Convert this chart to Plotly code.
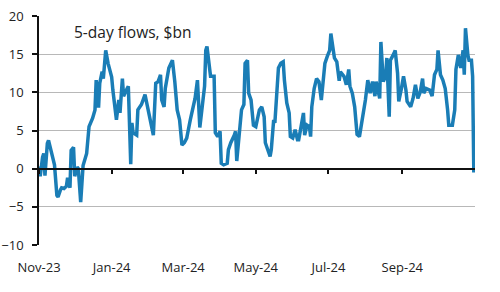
import plotly.graph_objects as go

dates = [
    "2023-11-01", "2023-11-02", "2023-11-04", "2023-11-05", "2023-11-06", "2023-11-08", "2023-11-09",
    "2023-11-11", "2023-11-13", "2023-11-14", "2023-11-16", "2023-11-17", "2023-11-19", "2023-11-20",
    "2023-11-22", "2023-11-24", "2023-11-25", "2023-11-27", "2023-11-28", "2023-11-30", "2023-12-01",
    "2023-12-03", "2023-12-04", "2023-12-06", "2023-12-07", "2023-12-08", "2023-12-11", "2023-12-12",
    "2023-12-13", "2023-12-16", "2023-12-18", "2023-12-19", "2023-12-21", "2023-12-22", "2023-12-24",
    "2023-12-25", "2023-12-27", "2023-12-29", "2024-01-01", "2024-01-02", "2024-01-05", "2024-01-07",
    "2024-01-08", "2024-01-10", "2024-01-11", "2024-01-14", "2024-01-15", "2024-01-17", "2024-01-18",
    "2024-01-19", "2024-01-22", "2024-01-23", "2024-01-26", "2024-01-29", "2024-01-31", "2024-02-02",
    "2024-02-05", "2024-02-07", "2024-02-09", "2024-02-11", "2024-02-12", "2024-02-14", "2024-02-15",
    "2024-02-18", "2024-02-21", "2024-02-23", "2024-02-25", "2024-02-27", "2024-02-29", "2024-03-02",
    "2024-03-04", "2024-03-07", "2024-03-09", "2024-03-11", "2024-03-13", "2024-03-15", "2024-03-17",
    "2024-03-19", "2024-03-20", "2024-03-21", "2024-03-24", "2024-03-27", "2024-03-28", "2024-03-30",
    "2024-04-01", "2024-04-02", "2024-04-04", "2024-04-07", "2024-04-08", "2024-04-10", "2024-04-13",
    "2024-04-14", "2024-04-15", "2024-04-17", "2024-04-19", "2024-04-21", "2024-04-22", "2024-04-24",
    "2024-04-25", "2024-04-27", "2024-04-29", "2024-05-01", "2024-05-04", "2024-05-06", "2024-05-08",
    "2024-05-09", "2024-05-11", "2024-05-13", "2024-05-14", "2024-05-16", "2024-05-17", "2024-05-19",
    "2024-05-20", "2024-05-22", "2024-05-24", "2024-05-25", "2024-05-27", "2024-05-29", "2024-05-30",
    "2024-06-01", "2024-06-03", "2024-06-05", "2024-06-06", "2024-06-08", "2024-06-10", "2024-06-11",
    "2024-06-13", "2024-06-15", "2024-06-16", "2024-06-17", "2024-06-19", "2024-06-21", "2024-06-23",
    "2024-06-25", "2024-06-27", "2024-06-28", "2024-06-30", "2024-07-02", "2024-07-03", "2024-07-05",
    "2024-07-06", "2024-07-08", "2024-07-10", "2024-07-11", "2024-07-14", "2024-07-16", "2024-07-18",
    "2024-07-19", "2024-07-21", "2024-07-23", "2024-07-25", "2024-07-27", "2024-07-29", "2024-08-01",
    "2024-08-03", "2024-08-05", "2024-08-07", "2024-08-09", "2024-08-10", "2024-08-13", "2024-08-14",
    "2024-08-16", "2024-08-18", "2024-08-19", "2024-08-21", "2024-08-22", "2024-08-25", "2024-08-26",
    "2024-08-28", "2024-08-29", "2024-08-31", "2024-09-02", "2024-09-04", "2024-09-05", "2024-09-08",
    "2024-09-10", "2024-09-12", "2024-09-14", "2024-09-16", "2024-09-18", "2024-09-19", "2024-09-21",
    "2024-09-24", "2024-09-26", "2024-09-28", "2024-09-30", "2024-10-01", "2024-10-03", "2024-10-05",
    "2024-10-07", "2024-10-09", "2024-10-10", "2024-10-13", "2024-10-15", "2024-10-16", "2024-10-18",
    "2024-10-20", "2024-10-22", "2024-10-23", "2024-10-24", "2024-10-26", "2024-10-27", "2024-10-29",
    "2024-10-30", "2024-10-31",
]

flows = [
    0.3, -1.0, 1.5, 2.0, -0.9, 3.3, 3.7,
    2.5, 1.5, 0.5, -3.5, -3.7, -2.8, -2.5,
    -2.6, -2.3, -1.2, -2.5, 2.4, 2.8, -1.0,
    0.2, 0.0, -4.4, -2.0, 0.4, 2.0, 4.0,
    5.5, 6.6, 7.7, 11.6, 8.0, 11.2, 12.7,
    11.8, 15.5, 13.8, 12.0, 10.3, 6.4, 9.0,
    7.3, 11.8, 9.5, 10.5, 10.8, 0.6, 6.0,
    4.7, 4.4, 7.7, 8.4, 9.7, 8.1, 6.4,
    4.4, 11.2, 11.4, 12.3, 9.0, 8.1, 10.5,
    13.2, 14.2, 11.4, 7.7, 6.4, 3.1, 3.4,
    4.0, 6.4, 8.1, 9.2, 11.6, 5.4, 8.1,
    10.8, 15.5, 16.0, 12.1, 12.1, 4.7, 4.2,
    4.9, 0.7, 0.5, 0.7, 2.5, 3.4, 4.4,
    4.9, 1.0, 4.7, 7.7, 8.4, 13.8, 14.2,
    9.9, 9.0, 5.7, 5.5, 7.7, 8.1, 6.8,
    3.4, 2.5, 1.6, 2.5, 6.4, 6.0, 9.9,
    13.2, 13.8, 14.0, 11.6, 8.6, 7.3, 4.2,
    4.0, 5.1, 3.8, 3.8, 5.5, 7.3, 4.4,
    5.7, 5.5, 4.2, 8.1, 10.5, 11.8, 11.4,
    9.0, 12.7, 13.8, 14.7, 15.5, 17.7, 15.3,
    14.5, 14.0, 11.5, 12.7, 12.1, 11.0, 13.0,
    10.8, 9.9, 8.1, 4.5, 4.2, 6.0, 9.0,
    11.6, 9.9, 11.4, 9.5, 11.4, 9.2, 16.6,
    11.4, 12.1, 14.5, 6.8, 14.2, 15.1, 15.5,
    12.5, 8.8, 10.3, 12.1, 10.3, 8.8, 8.1,
    9.2, 11.0, 9.2, 10.0, 11.8, 9.9, 10.5,
    10.3, 9.5, 12.3, 13.0, 15.5, 12.3, 11.6,
    10.5, 7.7, 5.7, 5.7, 7.7, 13.0, 14.9,
    13.2, 15.5, 12.3, 18.4, 14.9, 14.2, 14.2,
    12.1, -0.5,
]

tick_vals = ["2023-11-01", "2024-01-01", "2024-03-01", "2024-05-01", "2024-07-01", "2024-09-01"]
tick_text = ["Nov-23", "Jan-24", "Mar-24", "May-24", "Jul-24", "Sep-24"]
y_ticks = [-10, -5, 0, 5, 10, 15, 20]
title_text = "5-day flows, $bn"

x_range = ["2023-11-01", "2024-11-01"]
y_range = [-10, 20]

FONT = "Open Sans"
fig = go.Figure()
fig.add_trace(go.Scatter(
    x=dates, y=flows, mode="lines",
    line=dict(color="#1a7db6", width=3.5),
    showlegend=False, hoverinfo="skip",
))
# dummy trace for zero-line axis
fig.add_trace(go.Scatter(x=[], y=[], xaxis="x2", yaxis="y", showlegend=False))

fig.update_layout(
    width=500, height=292,
    margin=dict(l=39, r=25, t=16, b=47),
    paper_bgcolor="white", plot_bgcolor="white",
    font=dict(family=FONT, size=13, color="#222222"),
    xaxis=dict(
        type="date", range=x_range,
        tickvals=tick_vals, ticktext=tick_text,
        showgrid=False, zeroline=False, showline=False,
        ticks="outside", ticklen=10, tickcolor="rgba(0,0,0,0)",
        tickfont=dict(family=FONT, size=13, color="#222222"),
        automargin=False,
    ),
    xaxis2=dict(
        type="date", range=x_range, overlaying="x", anchor="free",
        position=(0 - y_range[0]) / (y_range[1] - y_range[0]),
        side="bottom",
        tickvals=tick_vals, showticklabels=False,
        ticks="outside", ticklen=5, tickwidth=1.5, tickcolor="#111111",
        showline=True, linecolor="#111111", linewidth=1.5,
        showgrid=False, zeroline=False, automargin=False,
    ),
    yaxis=dict(
        range=y_range, tickvals=y_ticks,
        showgrid=True, gridcolor="#b8b8b8", gridwidth=1,
        zeroline=False,
        showline=True, linecolor="#111111", linewidth=1.5,
        ticks="outside", ticklen=5, tickwidth=1.5, tickcolor="#111111",
        ticklabelstandoff=6,
        tickfont=dict(family=FONT, size=13, color="#222222"),
        automargin=False,
    ),
    annotations=[dict(
        text=title_text, xref="paper", yref="paper",
        x=(72 - 39) / 436, y=1 - (32 - 16) / 229,
        xanchor="left", yanchor="middle", showarrow=False,
        font=dict(family=FONT, size=15.5, color="#222222"),
    )],
)

fig.write_html("out.html")
